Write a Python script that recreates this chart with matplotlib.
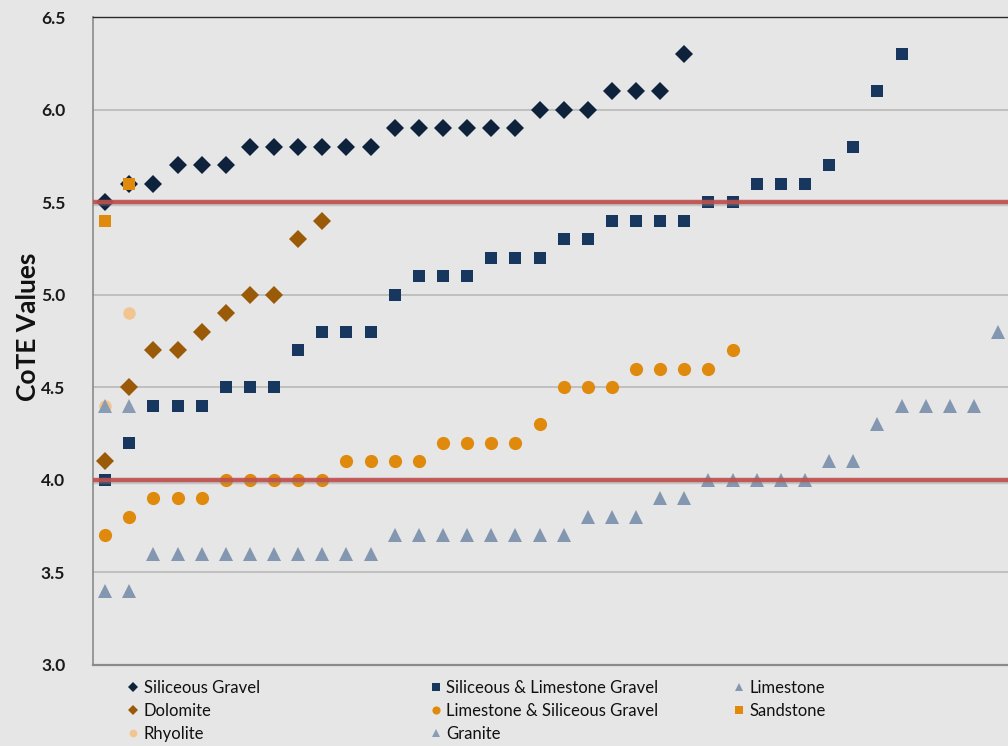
import matplotlib
matplotlib.use("Agg")
import matplotlib.pyplot as plt
import matplotlib.patheffects as pe

# CoTE values per aggregate type, sorted within each series
siliceous_gravel = [5.5, 5.6, 5.6, 5.7, 5.7, 5.7, 5.8, 5.8, 5.8, 5.8, 5.8, 5.8,
                    5.9, 5.9, 5.9, 5.9, 5.9, 5.9, 6.0, 6.0, 6.0, 6.1, 6.1, 6.1, 6.3]
sil_lime_gravel = [4.0, 4.2, 4.4, 4.4, 4.4, 4.5, 4.5, 4.5, 4.7, 4.8, 4.8, 4.8,
                   5.0, 5.1, 5.1, 5.1, 5.2, 5.2, 5.2, 5.3, 5.3, 5.4, 5.4, 5.4,
                   5.4, 5.5, 5.5, 5.6, 5.6, 5.6, 5.7, 5.8, 6.1, 6.3]
limestone = [3.4, 3.4, 3.6, 3.6, 3.6, 3.6, 3.6, 3.6, 3.6, 3.6, 3.6, 3.6,
             3.7, 3.7, 3.7, 3.7, 3.7, 3.7, 3.7, 3.7, 3.8, 3.8, 3.8, 3.9,
             3.9, 4.0, 4.0, 4.0, 4.0, 4.0, 4.1, 4.1, 4.3, 4.4, 4.4, 4.4,
             4.4, 4.8]
lime_sil_gravel = [3.7, 3.8, 3.9, 3.9, 3.9, 4.0, 4.0, 4.0, 4.0, 4.0, 4.1, 4.1,
                   4.1, 4.1, 4.2, 4.2, 4.2, 4.2, 4.3, 4.5, 4.5, 4.5, 4.6, 4.6,
                   4.6, 4.6, 4.7]
dolomite = [4.1, 4.5, 4.7, 4.7, 4.8, 4.9, 5.0, 5.0, 5.3, 5.4]
sandstone = [5.4, 5.6]
rhyolite = [4.4, 4.9]
granite = [4.4, 4.4]

limits = [5.5, 4.0]
y_ticks = [3.0, 3.5, 4.0, 4.5, 5.0, 5.5, 6.0, 6.5]

FONT = "Lato"
BG = "#e6e6e6"

fig = plt.figure(figsize=(10.08, 7.46), dpi=100, facecolor=BG)
ax = fig.add_axes([0.0923, 0.1086, 0.9077, 0.8686], facecolor=BG)


def pos(vals):
    return list(range(1, len(vals) + 1))


# (label, values, marker, size, color, zorder)
series = [
    ("Siliceous Gravel", siliceous_gravel, "D", 8.8, "#0f223b", 3),
    ("Siliceous & Limestone Gravel", sil_lime_gravel, "s", 8.5, "#17375e", 3),
    ("Dolomite", dolomite, "D", 8.8, "#9a5a08", 3),
    ("Limestone & Siliceous Gravel", lime_sil_gravel, "o", 9.5, "#df8a0c", 3),
    ("Rhyolite", rhyolite, "o", 9.0, "#f2c590", 3),
    ("Limestone", limestone, "^", 10.0, "#8497b0", 4),
    ("Granite", granite, "^", 10.0, "#8a9cb3", 4),
    ("Sandstone", sandstone, "s", 8.5, "#e08a0b", 5),
]

handles = {}
for label, vals, marker, ms, color, z in series:
    (h,) = ax.plot(pos(vals), vals, linestyle="none", marker=marker,
                   markersize=ms, color=color, markeredgewidth=0, zorder=z,
                   label=label)
    handles[label] = h

for lim in limits:
    ax.axhline(lim, color="#c0504d", lw=3.2, zorder=6, alpha=0.9,
               path_effects=[pe.SimpleLineShadow(offset=(0, -1.5),
                                                 shadow_color="#888888",
                                                 alpha=0.35),
                             pe.Normal()])

ax.set_ylim(3.0, 6.5)
ax.set_xlim(0.5, 38.41)
ax.set_yticks(y_ticks)
ax.set_yticklabels([f"{t:.1f}" for t in y_ticks], fontfamily=FONT,
                   fontweight="bold", fontsize=12.5, color="#1a1a1a")
ax.set_xticks([])
ax.tick_params(axis="y", length=0, pad=20)
ax.yaxis.grid(True, color="#bcbcbc", lw=1.3, zorder=0)
ax.set_axisbelow(True)

ax.spines["top"].set_color("#2a2a2a")
ax.spines["top"].set_linewidth(1.0)
ax.spines["left"].set_color("#8a8a8a")
ax.spines["left"].set_linewidth(1.2)
ax.spines["bottom"].set_color("#8a8a8a")
ax.spines["bottom"].set_linewidth(1.6)
ax.spines["right"].set_visible(False)

fig.text(0.028, 0.562, "CoTE Values", rotation=90, ha="center", va="center",
         fontfamily=FONT, fontweight="bold", fontsize=19, color="#111111")

# Legend laid out as three fixed columns
columns = [
    (0.118, ["Siliceous Gravel", "Dolomite", "Rhyolite"]),
    (0.418, ["Siliceous & Limestone Gravel", "Limestone & Siliceous Gravel", "Granite"]),
    (0.719, ["Limestone", "Sandstone"]),
]
for x0, labels in columns:
    leg = fig.legend([handles[l] for l in labels], labels,
                     loc="upper left", bbox_to_anchor=(x0, 0.1),
                     frameon=False, markerscale=0.62, handlelength=0.7,
                     handletextpad=0.3, labelspacing=0.42, borderpad=0,
                     prop={"family": FONT, "size": 12})
    for t in leg.get_texts():
        t.set_color("#111111")

fig.savefig("out.png", dpi=100, facecolor=BG)
